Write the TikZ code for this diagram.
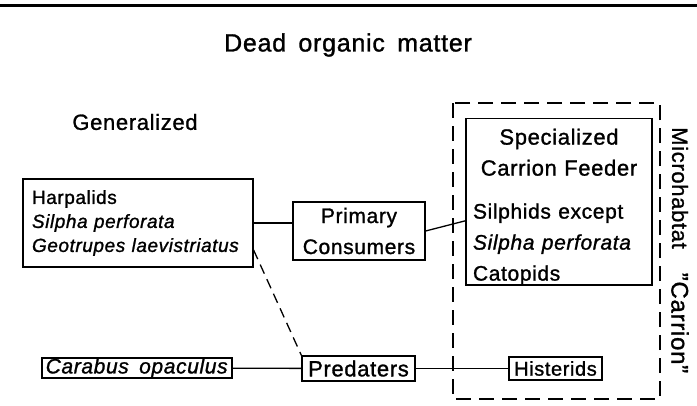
\documentclass[tikz,border=0pt]{standalone}
\usepackage{fontspec}
\setmainfont{Liberation Sans}[LetterSpace=3,WordSpace=1.6,FakeBold=1.2]
\newcommand{\fsz}[2]{\fontsize{#1}{#2}\selectfont}
\tikzset{
  box/.style={rectangle, draw, line width=1.2pt, inner sep=0pt},
  link/.style={line width=1.3pt},
  dashlink/.style={link, dash pattern=on 10pt off 6pt},
  frame/.style={line width=1.6pt, dash pattern=on 15pt off 8pt},
  label/.style={inner sep=0pt},
}
\begin{document}
\begin{tikzpicture}[x=1pt,y=-1pt]
\useasboundingbox (0,0) rectangle (697,405);
\draw[line width=3pt] (0,5) -- (697,5);
\node[label, font=\fsz{25}{30}] (title) at (348,45) {Dead organic matter};
\node[label, font=\fsz{22}{26}] (gen) at (135,122) {Generalized};
% generalized feeders and predators
\node[box, font=\fsz{19}{24}, text width=212pt, inner xsep=9pt, minimum height=88pt, align=left] (harp) at (138,223)
  {Harpalids\\ \textit{Silpha perforata}\\ \textit{Geotrupes laevistriatus}};
\node[box, font=\fsz{21}{31}, minimum width=132pt, minimum height=58pt, align=center] (primary) at (359,231) {Primary\\Consumers};
\node[box, font=\fsz{21}{24}, minimum width=190pt, minimum height=20pt] (carab) at (137,368) {\textit{Carabus opaculus}};
\node[box, font=\fsz{22}{26}, minimum width=113pt, minimum height=25pt] (pred) at (358.5,368.5) {Predaters};
% carrion microhabitat
\draw[frame] (453,103) rectangle (660,399);
\node[box, anchor=north, font=\fsz{22}{31}, text width=172pt, inner xsep=7pt, inner ysep=0pt] (special) at (559,118)
  {{\centering\rule{0pt}{26pt}Specialized\\ Carrion Feeder\par}\vspace{12pt}
   {\raggedright\fsz{21}{31}Silphids except\\ \textit{Silpha perforata}\\ Catopids\par}};
\node[box, font=\fsz{20}{24}, minimum width=93pt, minimum height=23pt] (hist) at (555.5,368.5) {Histerids};
\node[label, rotate=-90, font=\fsz{22}{26}] (micro) at (680,188) {Microhabtat};
\node[label, rotate=-90, font=\fsz{24}{28}] (carr) at (680,323) {"Carrion"};
% links
\draw[link] (harp.east) -- (harp.east -| primary.west);
\draw[link] (primary.east) -- ([yshift=-19pt]special.west);
\draw[dashlink] ([yshift=-27pt]harp.east) -- (pred.north west);
\draw[link] (carab) -- (pred);
\draw[link] (pred) -- (hist);
\end{tikzpicture}
\end{document}
